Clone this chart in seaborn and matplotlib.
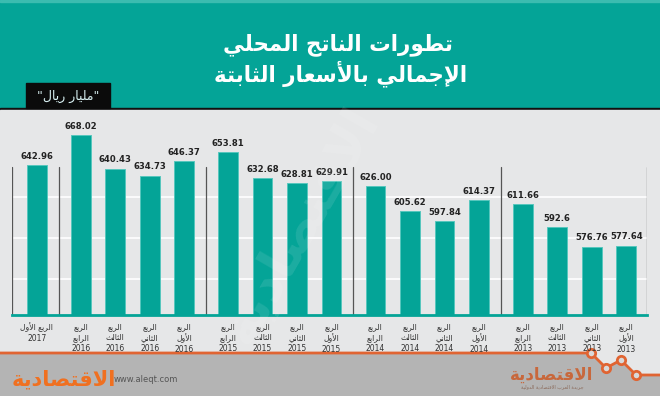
import matplotlib
matplotlib.use("Agg")
import matplotlib.pyplot as plt
from matplotlib.patches import Rectangle, Polygon
import pandas as pd
import seaborn as sns

# ── data (left to right, as drawn) ───────────
value_text = ["642.96",
              "668.02", "640.43", "634.73", "646.37",
              "653.81", "632.68", "628.81", "629.91",
              "626.00", "605.62", "597.84", "614.37",
              "611.66", "592.6", "576.76", "577.64"]
years = [2017,
         2016, 2016, 2016, 2016,
         2015, 2015, 2015, 2015,
         2014, 2014, 2014, 2014,
         2013, 2013, 2013, 2013]
quarters = ["الأول",
            "الرابع", "الثالث", "الثاني", "الأول",
            "الرابع", "الثالث", "الثاني", "الأول",
            "الرابع", "الثالث", "الثاني", "الأول",
            "الرابع", "الثالث", "الثاني", "الأول"]
gdp = [float(v) for v in value_text]

title_lines = ["تطورات الناتج المحلي", "الإجمالي بالأسعار الثابتة"]
unit_label = '"مليار ريال"'
brand = "الاقتصادية"

# ── colours ──────────────────────────────────
TEAL = "#04a497"
LIGHT = "#e6e7e8"
GRAY = "#b4b4b4"
ORANGE = "#e06432"

# ── tiny arabic shaper (matplotlib has no bidi/joining) ──
FORMS = {
    "ا": (0xFE8D, 2), "أ": (0xFE83, 2), "إ": (0xFE87, 2), "آ": (0xFE81, 2),
    "ب": (0xFE8F, 4), "ة": (0xFE93, 2), "ت": (0xFE95, 4), "ث": (0xFE99, 4),
    "ج": (0xFE9D, 4), "ح": (0xFEA1, 4), "خ": (0xFEA5, 4), "د": (0xFEA9, 2),
    "ذ": (0xFEAB, 2), "ر": (0xFEAD, 2), "ز": (0xFEAF, 2), "س": (0xFEB1, 4),
    "ش": (0xFEB5, 4), "ص": (0xFEB9, 4), "ض": (0xFEBD, 4), "ط": (0xFEC1, 4),
    "ظ": (0xFEC5, 4), "ع": (0xFEC9, 4), "غ": (0xFECD, 4), "ف": (0xFED1, 4),
    "ق": (0xFED5, 4), "ك": (0xFED9, 4), "ل": (0xFEDD, 4), "م": (0xFEE1, 4),
    "ن": (0xFEE5, 4), "ه": (0xFEE9, 4), "و": (0xFEED, 2), "ى": (0xFEEF, 2),
    "ي": (0xFEF1, 4),
}
LAM_ALEF = {"آ": 0xFEF5, "أ": 0xFEF7, "إ": 0xFEF9, "ا": 0xFEFB}


def shape_ar(text):
    lines = []
    for line in text.split("\n"):
        tokens = []
        i = 0
        while i < len(line):
            ch = line[i]
            if ch == "ل" and i + 1 < len(line) and line[i + 1] in LAM_ALEF:
                tokens.append((LAM_ALEF[line[i + 1]], 2, None))
                i += 2
                continue
            if ch in FORMS:
                tokens.append((FORMS[ch][0], FORMS[ch][1], ch))
            else:
                tokens.append((None, 0, ch))
            i += 1
        out = []
        arabic = False
        for k, (base, n, raw) in enumerate(tokens):
            if base is None:
                out.append(raw)
                continue
            arabic = True
            prev_j = k > 0 and tokens[k - 1][1] == 4
            next_j = n == 4 and k + 1 < len(tokens) and tokens[k + 1][0] is not None
            off = 3 if (prev_j and next_j) else 1 if prev_j else 2 if next_j else 0
            out.append(chr(base + off))
        lines.append("".join(out[::-1]) if arabic else "".join(out))
    return "\n".join(lines)


sns.set_theme(style="white")
plt.rcParams["font.family"] = ["DejaVu Sans"]

# bar positions: extra gap between years
groups = [years[0] - y for y in years]
positions = [i + 0.27 * g for i, g in enumerate(groups)]
df = pd.DataFrame({"pos": positions, "gdp": gdp})
tick_labels = []
for q, y in zip(quarters, years):
    if y == years[0]:
        tick_labels.append(shape_ar("الربع " + q) + "\n" + str(y))
    else:
        tick_labels.append(shape_ar("الربع\n" + q) + "\n" + str(y))

fig = plt.figure(figsize=(6.6, 3.96), dpi=100)

# ── background decoration (pixel coords) ─────
bg = fig.add_axes([0, 0, 1, 1], zorder=-1)
bg.set_xlim(0, 660)
bg.set_ylim(396, 0)
bg.axis("off")
bg.add_patch(Rectangle((0, 0), 660, 108, color=TEAL))
bg.add_patch(Rectangle((0, 0), 660, 2, color="#3bbcb0"))
bg.add_patch(Rectangle((0, 107.5), 660, 3, color="#111111"))
bg.add_patch(Rectangle((0, 110), 660, 286, color=LIGHT))
zig_x = [0, 591, 606, 621, 636, 660]
zig_y = [353, 353, 368, 360, 375, 375]
bg.add_patch(Polygon(list(zip(zig_x, zig_y)) + [(660, 396), (0, 396)], color=GRAY))
bg.plot(zig_x, zig_y, color=ORANGE, lw=2)
bg.plot(zig_x[1:5], zig_y[1:5], "o", ms=6, mfc="#d9d9d9", mec=ORANGE, mew=2)
bg.add_patch(Rectangle((26, 83), 84, 25, color="#0b0b0b"))
bg.text(68, 96, shape_ar(unit_label), color="#d6eef0", fontsize=9,
        ha="center", va="center")

# ── chart ────────────────────────────────────
ax = fig.add_axes([12 / 660, (396 - 315) / 396, 635 / 660, 195 / 396])
ax.patch.set_alpha(0)
sns.barplot(data=df, x="pos", y="gdp", native_scale=True, width=0.57,
            color=TEAL, saturation=1, edgecolor="#57c7bd", linewidth=0.7,
            errorbar=None, ax=ax, zorder=3)
ax.set_xlim(positions[0] - 0.72, positions[-1] + 0.6)
ax.set_ylim(521, 680)
ax.set_yticks([550, 584, 617])
ax.yaxis.grid(True, color="white", lw=1.2)
ax.tick_params(axis="y", left=False, labelleft=False)
ax.set_xlabel("")
ax.set_ylabel("")
for s in ["top", "left", "right"]:
    ax.spines[s].set_visible(False)
ax.spines["bottom"].set_color(TEAL)
ax.spines["bottom"].set_linewidth(2)
ax.spines["bottom"].set_zorder(4)

# year separators
seps = [positions[0] - 0.72, positions[-1] + 0.6]
for k in range(1, len(positions)):
    if years[k] != years[k - 1]:
        seps.append((positions[k - 1] + positions[k]) / 2)
for s in seps:
    ax.axvline(s, ymin=0, ymax=(315 - 167) / 195, color="#555555", lw=0.9, zorder=2)

ax.set_xticks(positions)
ax.set_xticklabels(tick_labels, fontsize=5.5, color="#333333", linespacing=1.3)
ax.tick_params(axis="x", length=0, pad=5)
ax.bar_label(ax.containers[0], labels=value_text, padding=3, fontsize=6.1,
             fontweight="bold", color="#222222")

# ── titles & branding ────────────────────────
fig.text(338 / 660, 1 - 45 / 396, shape_ar(title_lines[0]), color="white",
         fontsize=15.5, fontweight="bold", ha="center", va="center")
fig.text(341 / 660, 1 - 74 / 396, shape_ar(title_lines[1]), color="white",
         fontsize=15.5, fontweight="bold", ha="center", va="center")
fig.text(300 / 660, 1 - 225 / 396, shape_ar(brand), color="white", alpha=0.1,
         fontsize=38, fontweight="bold", rotation=60, ha="center", va="center")
fig.text(64 / 660, 1 - 379 / 396, shape_ar(brand), color="#f07020",
         fontsize=15, fontweight="bold", ha="center", va="center")
fig.text(114 / 660, 1 - 379 / 396, "www.aleqt.com", color="#555555",
         fontsize=6, ha="left", va="center")
fig.text(552 / 660, 1 - 375 / 396, shape_ar(brand), color="#c8683c",
         fontsize=12, fontweight="bold", ha="center", va="center")
fig.text(552 / 660, 1 - 387 / 396, shape_ar("جريدة العرب الاقتصادية الدولية"),
         color="#8a6a5a", fontsize=3.5, ha="center", va="center")

fig.savefig("out.png", dpi=100, facecolor=LIGHT)
